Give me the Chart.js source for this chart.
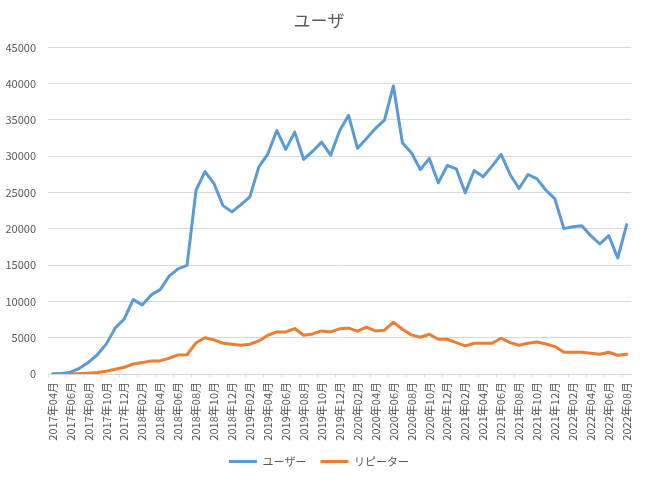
<!DOCTYPE html>
<html>
<head>
<meta charset="utf-8">
<script src="https://cdn.jsdelivr.net/npm/chart.js@4/dist/chart.umd.min.js"></script>
<style>
html,body{margin:0;padding:0;background:#fff;}
#wrap{width:645px;height:480px;}
</style>
</head>
<body>
<div id="wrap"><canvas id="c" width="645" height="480"></canvas></div>
<script>
const months = ["2017年04月","2017年05月","2017年06月","2017年07月","2017年08月","2017年09月","2017年10月","2017年11月","2017年12月",
"2018年01月","2018年02月","2018年03月","2018年04月","2018年05月","2018年06月","2018年07月","2018年08月","2018年09月","2018年10月","2018年11月","2018年12月",
"2019年01月","2019年02月","2019年03月","2019年04月","2019年05月","2019年06月","2019年07月","2019年08月","2019年09月","2019年10月","2019年11月","2019年12月",
"2020年01月","2020年02月","2020年03月","2020年04月","2020年05月","2020年06月","2020年07月","2020年08月","2020年09月","2020年10月","2020年11月","2020年12月",
"2021年01月","2021年02月","2021年03月","2021年04月","2021年05月","2021年06月","2021年07月","2021年08月","2021年09月","2021年10月","2021年11月","2021年12月",
"2022年01月","2022年02月","2022年03月","2022年04月","2022年05月","2022年06月","2022年07月","2022年08月"];

const users = [0,80,250,780,1600,2650,4150,6350,7580,10250,9520,10900,11620,13480,14480,14970,25320,27880,26240,23200,22340,23340,24400,28540,30300,33560,30950,33330,29560,30700,31950,30150,33520,35640,31100,32460,33840,34990,39690,31860,30480,28180,29700,26340,28730,28270,24960,28040,27170,28640,30250,27490,25550,27490,26890,25320,24120,20030,20300,20440,19060,17910,19060,15980,20580];

const repeaters = [0,20,40,60,120,200,370,650,920,1380,1570,1800,1800,2170,2630,2650,4300,5000,4700,4240,4100,3960,4100,4560,5340,5800,5800,6260,5340,5520,5940,5800,6220,6330,5900,6450,5940,6030,7140,6170,5390,5060,5480,4790,4790,4330,3870,4240,4240,4240,4930,4330,3960,4240,4420,4140,3780,3000,3000,3000,2860,2720,3000,2580,2720];

const seriesNames = ["ユーザー","リピーター"];
const chartTitle = "ユーザ";
const yMax = 45000, yStep = 5000;

const FONT = "'Noto Sans CJK JP', 'Noto Sans', sans-serif";
const TXT = '#595959';
const GRID = '#D9D9D9';

new Chart(document.getElementById('c'), {
  type: 'line',
  data: {
    labels: months,
    datasets: [
      {label: seriesNames[0], data: users, borderColor: '#5B9BD5', backgroundColor: '#5B9BD5', borderWidth: 3, pointRadius: 0, tension: 0, borderJoinStyle: 'round', borderCapStyle: 'round'},
      {label: seriesNames[1], data: repeaters, borderColor: '#ED7D31', backgroundColor: '#ED7D31', borderWidth: 3, pointRadius: 0, tension: 0, borderJoinStyle: 'round', borderCapStyle: 'round'}
    ]
  },
  options: {
    responsive: false,
    animation: false,
    devicePixelRatio: 1,
    layout: {padding: {left: 6, right: 13, top: 4, bottom: 3}},
    plugins: {
      title: {display: true, text: chartTitle, color: TXT, font: {family: FONT, size: 17, weight: 'normal'}, padding: {top: 6, bottom: 17}},
      legend: {
        position: 'bottom',
        labels: {color: TXT, font: {family: FONT, size: 11}, usePointStyle: true, pointStyle: 'line', pointStyleWidth: 28, boxHeight: 3, padding: 14}
      },
      tooltip: {enabled: false}
    },
    scales: {
      x: {
        offset: true,
        afterFit: s => { s.height = 68; },
        grid: {
          offset: true,
          drawOnChartArea: false,
          drawTicks: true,
          tickLength: 3,
          color: ctx => (ctx.index % 2 === 0 ? GRID : 'rgba(0,0,0,0)')
        },
        border: {display: true, color: GRID, width: 1},
        ticks: {
          autoSkip: false,
          minRotation: 90,
          maxRotation: 90,
          padding: 5,
          color: TXT,
          font: {family: FONT, size: 11},
          callback: (v, i) => (i % 2 === 0 ? months[i] : '')
        }
      },
      y: {
        min: 0,
        max: yMax,
        grid: {color: GRID, drawTicks: false},
        border: {display: false},
        afterFit: s => { s.width = 42; },
        ticks: {stepSize: yStep, padding: 12, color: TXT, font: {family: FONT, size: 11}, callback: v => String(v)}
      }
    }
  }
});
</script>
</body>
</html>
